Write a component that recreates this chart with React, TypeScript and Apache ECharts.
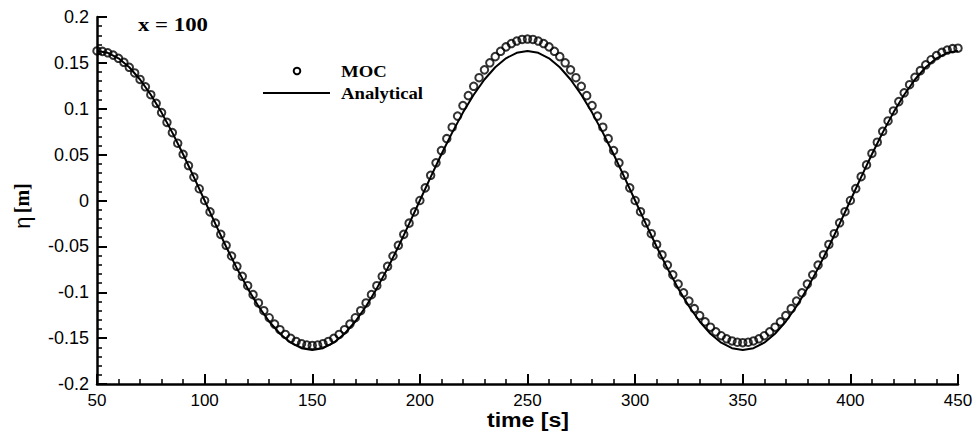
import React, { useEffect, useRef } from "react";
import * as echarts from "echarts";

// MOC samples: every 2.5 s from t = 50 s to t = 450 s
const mocStart = 50;
const mocStep = 2.5;
const mocValues = [
  0.163, 0.1625, 0.161, 0.1585, 0.155, 0.1506, 0.1452, 0.139, 0.1319, 0.1239, 0.1153,
  0.1059, 0.0958, 0.0852, 0.074, 0.0624, 0.0504, 0.0381, 0.0255, 0.0128, 0,
  -0.0124, -0.0247, -0.0369, -0.0488, -0.0605, -0.0717, -0.0826, -0.0929, -0.1026, -0.1117,
  -0.1201, -0.1278, -0.1347, -0.1408, -0.146, -0.1503, -0.1536, -0.1561, -0.1575, -0.158,
  -0.1575, -0.1561, -0.1536, -0.1503, -0.146, -0.1408, -0.1347, -0.1278, -0.1201, -0.1117,
  -0.1026, -0.0929, -0.0826, -0.0717, -0.0605, -0.0488, -0.0369, -0.0247, -0.0124, 0,
  0.0138, 0.0275, 0.0411, 0.0544, 0.0674, 0.0799, 0.092, 0.1035, 0.1143, 0.1245,
  0.1338, 0.1424, 0.1501, 0.1568, 0.1626, 0.1674, 0.1711, 0.1738, 0.1755, 0.176,
  0.1755, 0.1738, 0.1711, 0.1674, 0.1626, 0.1568, 0.1501, 0.1424, 0.1338, 0.1245,
  0.1143, 0.1035, 0.092, 0.0799, 0.0674, 0.0544, 0.0411, 0.0275, 0.0138, 0,
  -0.0122, -0.0243, -0.0362, -0.0479, -0.0593, -0.0704, -0.081, -0.0911, -0.1007, -0.1096,
  -0.1179, -0.1254, -0.1322, -0.1381, -0.1432, -0.1474, -0.1507, -0.1531, -0.1545, -0.155,
  -0.1545, -0.1531, -0.1507, -0.1474, -0.1432, -0.1381, -0.1322, -0.1254, -0.1179, -0.1096,
  -0.1007, -0.0911, -0.081, -0.0704, -0.0593, -0.0479, -0.0362, -0.0243, -0.0122, 0,
  0.013, 0.026, 0.0388, 0.0513, 0.0635, 0.0754, 0.0867, 0.0976, 0.1078, 0.1174,
  0.1262, 0.1343, 0.1415, 0.1479, 0.1534, 0.1579, 0.1614, 0.164, 0.1655, 0.166,
];

// Analytical curve: every 5 s from t = 50 s to t = 450 s
const anaStart = 50;
const anaStep = 5;
const analyticalValues = [
  0.163, 0.161, 0.155, 0.1452, 0.1319, 0.1153, 0.0958, 0.074, 0.0504, 0.0255, 0,
  -0.0255, -0.0504, -0.074, -0.0958, -0.1153, -0.1319, -0.1452, -0.155, -0.161, -0.163,
  -0.161, -0.155, -0.1452, -0.1319, -0.1153, -0.0958, -0.074, -0.0504, -0.0255, 0,
  0.0255, 0.0504, 0.074, 0.0958, 0.1153, 0.1319, 0.1452, 0.155, 0.161, 0.163,
  0.161, 0.155, 0.1452, 0.1319, 0.1153, 0.0958, 0.074, 0.0504, 0.0255, 0,
  -0.0255, -0.0504, -0.074, -0.0958, -0.1153, -0.1319, -0.1452, -0.155, -0.161, -0.163,
  -0.161, -0.155, -0.1452, -0.1319, -0.1153, -0.0958, -0.074, -0.0504, -0.0255, 0,
  0.0255, 0.0504, 0.074, 0.0958, 0.1153, 0.1319, 0.1452, 0.155, 0.161, 0.163,
];

const xAxisTitle = "time [s]";
const yAxisSymbol = "η";
const yAxisUnit = "[m]";
const stationLabel = "x = 100";
const legendNames = ["MOC", "Analytical"];

export default function App() {
  const ref = useRef<HTMLDivElement>(null);

  useEffect(() => {
    if (!ref.current) return;
    const chart = echarts.init(ref.current, null, { renderer: "svg" });

    const mocData = mocValues.map((v, i) => [mocStart + i * mocStep, v]);
    const anaData = analyticalValues.map((v, i) => [anaStart + i * anaStep, v]);

    const sans = "'Liberation Sans', Arial, Helvetica, sans-serif";
    const serif = "'Liberation Serif', 'Times New Roman', serif";

    chart.setOption({
      animation: false,
      backgroundColor: "#ffffff",
      grid: { left: 97, top: 17, right: 20, bottom: 52, containLabel: false },
      xAxis: {
        type: "value",
        min: 50,
        max: 450,
        interval: 50,
        axisLine: { show: true, onZero: false, lineStyle: { color: "#000", width: 2.5 } },
        axisTick: { show: true, inside: true, length: 10, lineStyle: { color: "#000", width: 2 } },
        minorTick: { show: true, splitNumber: 5, length: 5, lineStyle: { color: "#000", width: 1.5 } },
        splitLine: { show: false },
        minorSplitLine: { show: false },
        axisLabel: { color: "#000", fontFamily: sans, fontSize: 17, margin: 8 },
      },
      yAxis: {
        type: "value",
        min: -0.2,
        max: 0.2,
        interval: 0.05,
        axisLine: { show: true, onZero: false, lineStyle: { color: "#000", width: 2.5 } },
        axisTick: { show: true, inside: true, length: 10, lineStyle: { color: "#000", width: 2 } },
        minorTick: { show: true, splitNumber: 5, length: 5, lineStyle: { color: "#000", width: 1.5 } },
        splitLine: { show: false },
        minorSplitLine: { show: false },
        axisLabel: {
          color: "#000",
          fontFamily: sans,
          fontSize: 18,
          margin: 8,
          formatter: (v: number) => String(+v.toFixed(2)),
        },
      },
      series: [
        {
          name: legendNames[1],
          type: "line",
          data: anaData,
          showSymbol: false,
          symbol: "none",
          lineStyle: { color: "#000", width: 2 },
          z: 2,
        },
        {
          name: legendNames[0],
          type: "scatter",
          data: mocData,
          symbol: "circle",
          symbolSize: 7.5,
          itemStyle: { color: "rgba(255,255,255,0)", borderColor: "#000", borderWidth: 2 },
          z: 3,
        },
      ],
      graphic: [
        {
          type: "text",
          x: 138,
          y: 25,
          scaleX: 1.2,
          style: {
            text: stationLabel,
            font: `bold 19px ${serif}`,
            fill: "#000",
            align: "left",
            verticalAlign: "middle",
          },
        },
        {
          type: "circle",
          shape: { cx: 297, cy: 71, r: 3.3 },
          style: { fill: "none", stroke: "#000", lineWidth: 2 },
        },
        {
          type: "line",
          shape: { x1: 263, y1: 93, x2: 330, y2: 93 },
          style: { stroke: "#000", lineWidth: 2 },
        },
        {
          type: "text",
          x: 341,
          y: 71,
          scaleX: 1.1,
          style: {
            text: legendNames[0],
            font: `bold 17px ${serif}`,
            fill: "#000",
            align: "left",
            verticalAlign: "middle",
          },
        },
        {
          type: "text",
          x: 341,
          y: 93,
          scaleX: 1.1,
          style: {
            text: legendNames[1],
            font: `bold 17px ${serif}`,
            fill: "#000",
            align: "left",
            verticalAlign: "middle",
          },
        },
        {
          type: "text",
          x: 528,
          y: 420,
          scaleX: 1.1,
          style: {
            text: xAxisTitle,
            font: `bold 21px ${sans}`,
            fill: "#000",
            align: "center",
            verticalAlign: "middle",
          },
        },
        {
          type: "text",
          x: 22,
          y: 206,
          rotation: Math.PI / 2,
          style: {
            text: `{s|${yAxisSymbol}} {u|${yAxisUnit}}`,
            align: "center",
            verticalAlign: "middle",
            rich: {
              s: { font: `22px ${sans}`, fill: "#000" },
              u: { font: `bold 20px ${serif}`, fill: "#000" },
            },
          },
        },
      ],
    });

    return () => chart.dispose();
  }, []);

  return (
    <div
      ref={ref}
      style={{ position: "absolute", left: 0, top: 0, width: 978, height: 436 }}
    />
  );
}
